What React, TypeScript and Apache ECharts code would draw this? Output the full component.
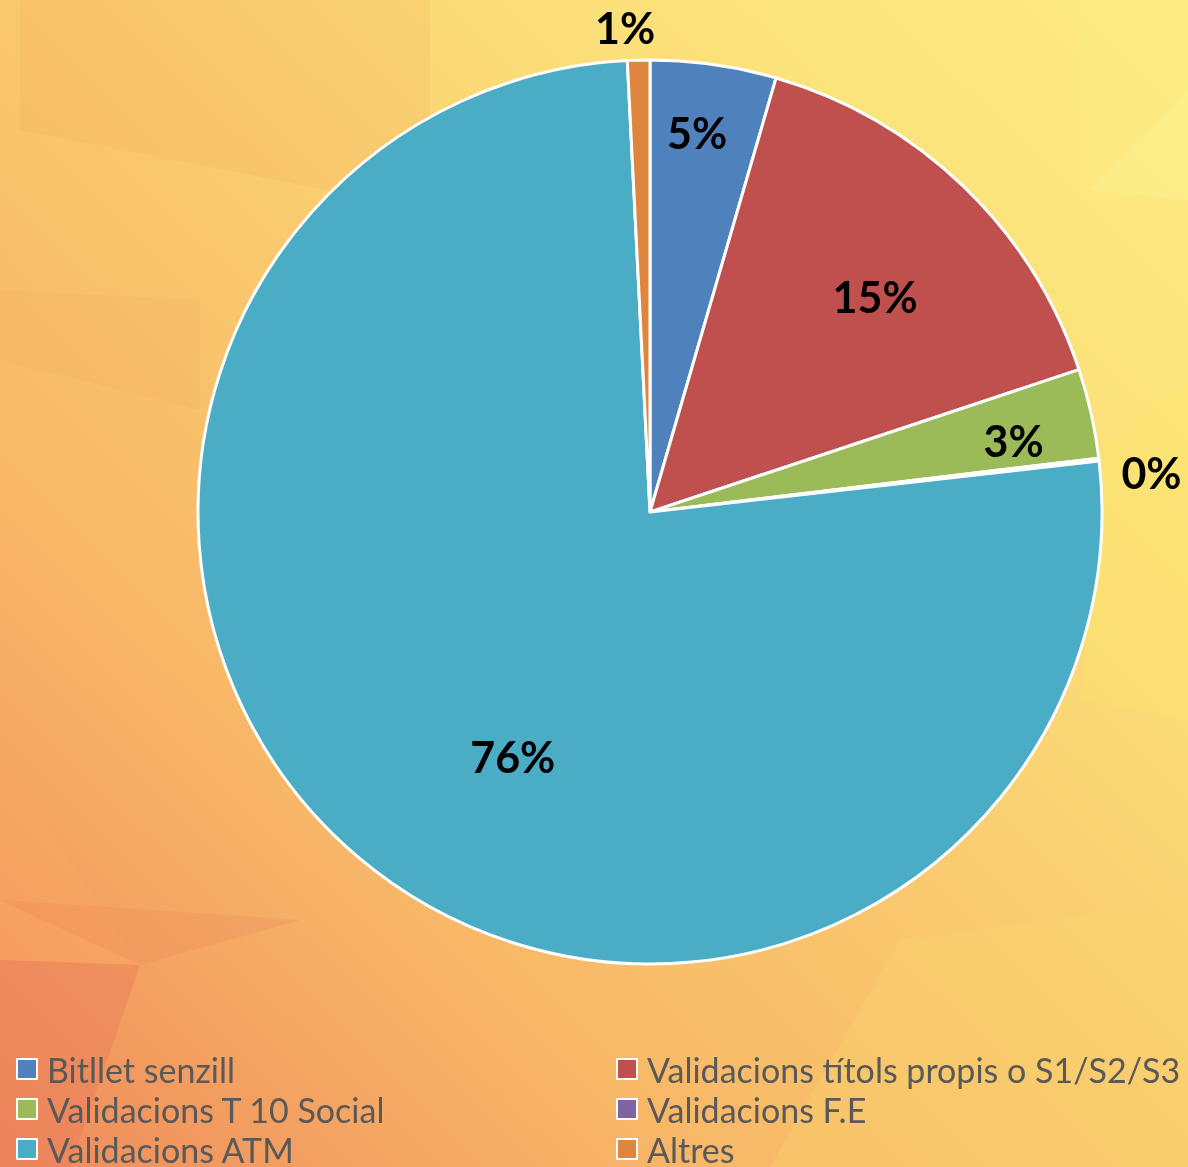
import React, { useEffect, useRef } from "react";
import * as echarts from "echarts";

const categories = [
  "Bitllet senzill",
  "Validacions títols propis o S1/S2/S3",
  "Validacions T 10 Social",
  "Validacions F.E",
  "Validacions ATM",
  "Altres",
];
const values = [4.5, 15.4, 3.2, 0.1, 76.0, 0.8];
const colors = ["#4f81bd", "#c0504d", "#9bbb59", "#8064a2", "#4bacc6", "#de8640"];
// percentage label placement: radius as fraction of pie radius, angular shift in degrees
const labelRadius = [0.845, 0.69, 0.82, 1.113, 0.62, 1.073];
const labelShift = [-1, 2.3, 1.5, 2.1, -11, -1.5];

const W = 1188;
const H = 1167;
const CX = 650;
const CY = 512;
const R = 452;

export default function App() {
  const ref = useRef<HTMLDivElement>(null);
  useEffect(() => {
    if (!ref.current) return;
    const chart = echarts.init(ref.current, undefined, { renderer: "svg" });
    const legendText = {
      color: "#595959",
      fontSize: 34,
      fontFamily: "Lato",
      lineHeight: 34,
      padding: [0, 0, 0, 5],
    };
    const legends = categories.map((name, i) => ({
      data: [name],
      orient: "horizontal",
      left: i % 2 === 0 ? 16 : 616,
      top: 1052 + Math.floor(i / 2) * 40,
      itemWidth: 20,
      itemHeight: 20,
      padding: 0,
      icon: "rect",
      textStyle: legendText,
      selectedMode: false,
    }));
    const poly = (points: number[][], fill: string) => ({
      type: "polygon",
      z: -9,
      silent: true,
      shape: { points },
      style: { fill },
    });
    const option: any = {
      animation: false,
      graphic: [
        {
          type: "rect",
          z: -10,
          silent: true,
          shape: { x: 0, y: 0, width: W, height: H },
          style: {
            fill: new echarts.graphic.LinearGradient(0, 1, 1, 0, [
              { offset: 0, color: "#ee8a5c" },
              { offset: 0.1, color: "#f29a5f" },
              { offset: 0.2, color: "#f5ab64" },
              { offset: 0.3, color: "#f8b868" },
              { offset: 0.5, color: "#f9c86e" },
              { offset: 0.7, color: "#fbdd78" },
              { offset: 1, color: "#fdec80" },
            ]),
          },
        },
        poly([[20, 0], [430, 0], [430, 210], [20, 130]], "rgba(240,160,90,0.15)"),
        poly([[0, 360], [200, 410], [200, 300], [0, 290]], "rgba(240,160,90,0.12)"),
        poly([[0, 760], [140, 965], [0, 960]], "rgba(255,170,100,0.3)"),
        poly([[0, 960], [140, 965], [70, 1167], [0, 1167]], "rgba(232,120,90,0.4)"),
        poly([[0, 900], [300, 920], [140, 965]], "rgba(236,130,90,0.25)"),
        poly([[1080, 0], [1188, 0], [1188, 200], [1080, 200]], "rgba(255,245,140,0.2)"),
        poly([[1090, 190], [1188, 90], [1188, 200]], "rgba(255,250,160,0.25)"),
        poly([[1100, 450], [1188, 380], [1188, 720], [1080, 700]], "rgba(250,230,100,0.25)"),
        poly([[770, 1167], [900, 940], [1188, 900], [1188, 1167]], "rgba(250,215,110,0.3)"),
      ],
      legend: legends,
      series: [
        {
          type: "pie",
          center: [CX, CY],
          radius: R,
          startAngle: 90,
          clockwise: true,
          avoidLabelOverlap: false,
          minShowLabelAngle: 0,
          itemStyle: { borderColor: "#ffffff", borderWidth: 3 },
          label: {
            show: true,
            position: "inside",
            color: "#000000",
            fontSize: 43,
            fontWeight: "bold",
            fontFamily: "Lato",
            formatter: (p: any) => Math.round(p.value) + "%",
          },
          labelLine: { show: false },
          labelLayout: (p: any) => {
            const r = p.labelRect;
            const dx = r.x + r.width / 2 - CX;
            const dy = r.y + r.height / 2 - CY;
            const ang = Math.atan2(dx, -dy) + (labelShift[p.dataIndex] * Math.PI) / 180;
            const target = labelRadius[p.dataIndex] * R;
            return { x: CX + Math.sin(ang) * target, y: CY - Math.cos(ang) * target };
          },
          emphasis: { disabled: true },
          data: categories.map((name, i) => ({
            name,
            value: values[i],
            itemStyle: { color: colors[i] },
          })),
        },
      ],
    };
    chart.setOption(option);
    return () => chart.dispose();
  }, []);
  return (
    <div
      ref={ref}
      style={{ position: "fixed", left: 0, top: 0, width: W, height: H }}
    />
  );
}
